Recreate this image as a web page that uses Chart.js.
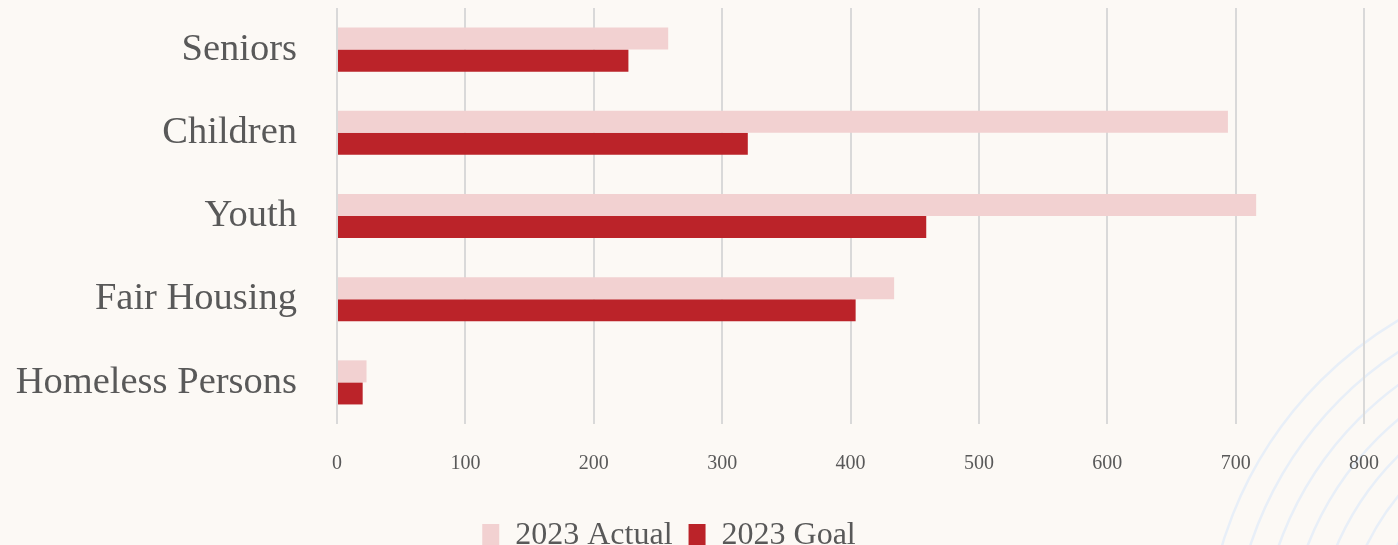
<!DOCTYPE html>
<html>
<head>
<meta charset="utf-8">
<script src="https://cdn.jsdelivr.net/npm/chart.js@4"></script>
<style>
  html, body { margin: 0; padding: 0; background: #fcf9f5; overflow: hidden; width: 1398px; height: 545px; }
  canvas { display: block; }
</style>
</head>
<body>
<canvas id="programs" width="1398" height="562"></canvas>
<script>
const categories = ['Seniors', 'Children', 'Youth', 'Fair Housing', 'Homeless Persons'];
const actual2023 = [258, 694, 716, 434, 23];
const goal2023 = [227, 320, 459, 404, 20];
const xTicks = [0, 100, 200, 300, 400, 500, 600, 700, 800];

const textColor = '#595959';
const fontFamily = '"Liberation Serif", "Times New Roman", serif';

// background + the faint arcs in the bottom right corner
const backdrop = {
  id: 'backdrop',
  beforeDraw(chart) {
    const c = chart.ctx;
    c.save();
    c.fillStyle = '#fcf9f5';
    c.fillRect(0, 0, chart.width, chart.height);
    c.strokeStyle = '#e8eff8';
    c.lineWidth = 2.5;
    for (let r = 395; r > 150; r -= 27) {
      c.beginPath();
      c.arc(1600, 660, r, 0, Math.PI * 2);
      c.stroke();
    }
    c.restore();
  }
};

// the legend sits a little left of centre in the original
const legendShift = {
  id: 'legendShift',
  afterLayout(chart) {
    chart.legend.left -= 13;
    chart.legend.right -= 13;
  }
};

const ctx = document.getElementById('programs');

new Chart(ctx, {
  type: 'bar',
  data: {
    labels: categories,
    datasets: [
      {
        label: '2023 Actual',
        data: actual2023,
        backgroundColor: '#f2d1d1'
      },
      {
        label: '2023 Goal',
        data: goal2023,
        backgroundColor: '#bb2329'
      }
    ]
  },
  options: {
    indexAxis: 'y',
    responsive: false,
    animation: false,
    layout: { padding: { top: 8, right: 34, left: 0, bottom: 0 } },
    datasets: {
      bar: { categoryPercentage: 0.53, barPercentage: 1.0 }
    },
    plugins: {
      legend: {
        position: 'bottom',
        labels: {
          color: textColor,
          font: { family: fontFamily, size: 32 },
          boxWidth: 17,
          boxHeight: 24,
          padding: 16
        }
      },
      tooltip: { enabled: false }
    },
    scales: {
      x: {
        min: 0,
        max: 800,
        afterBuildTicks(axis) { axis.ticks = xTicks.map(v => ({ value: v })); },
        afterFit(scale) { scale.paddingLeft = 0; scale.paddingRight = 0; },
        grid: { color: '#d9d9d9', lineWidth: 2, drawTicks: false },
        border: { display: false },
        ticks: {
          color: textColor,
          font: { family: fontFamily, size: 20 },
          padding: 28
        }
      },
      y: {
        afterFit(scale) {
          scale.width = 337;
          scale.paddingTop = 0;
          scale.paddingBottom = 0;
        },
        grid: { display: false, drawTicks: false },
        border: { display: false },
        ticks: {
          color: textColor,
          font: { family: fontFamily, size: 38.5 },
          padding: 40
        }
      }
    }
  },
  plugins: [backdrop, legendShift]
});
</script>
</body>
</html>
